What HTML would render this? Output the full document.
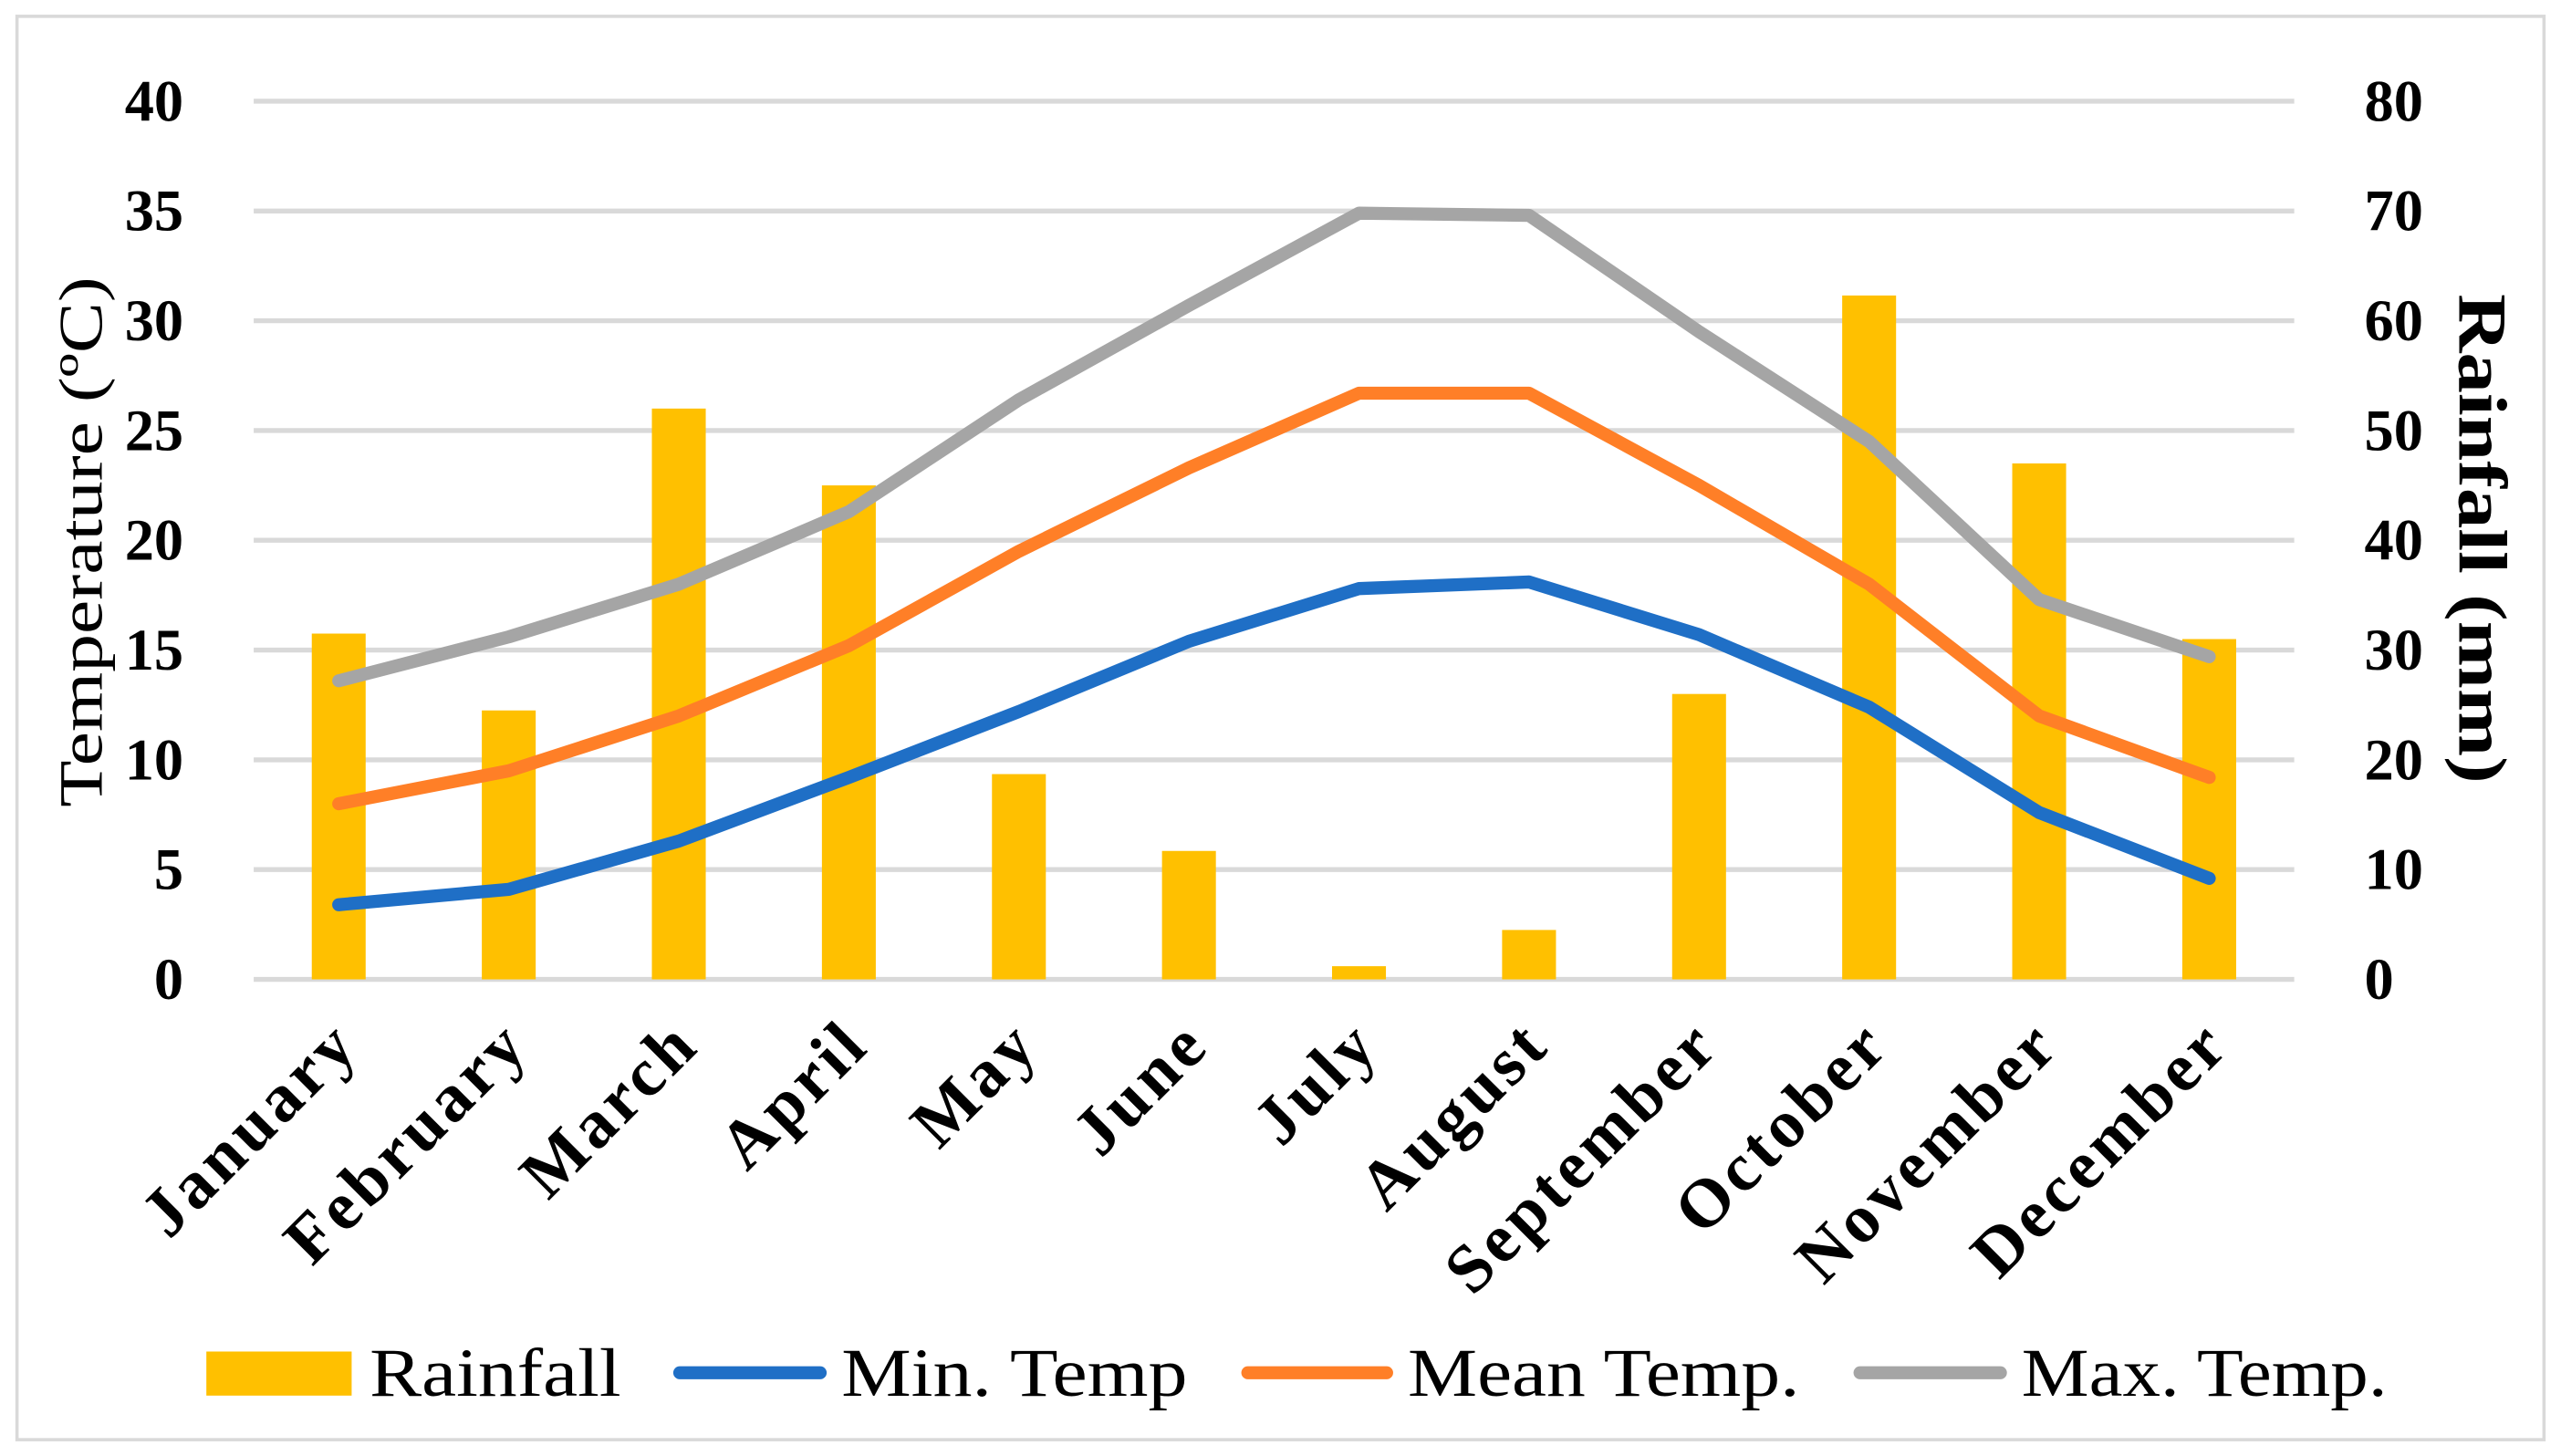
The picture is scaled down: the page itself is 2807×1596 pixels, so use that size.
<!DOCTYPE html>
<html><head><meta charset="utf-8"><style>html,body{margin:0;padding:0;background:#fff}svg{display:block}</style></head>
<body>
<svg id="chart" width="2807" height="1596" viewBox="0 0 1568 892" xmlns="http://www.w3.org/2000/svg" font-family="'Liberation Serif', serif" font-weight="bold">
<rect x="10" y="10" width="1548" height="872" fill="#fff" stroke="#d9d9d9" stroke-width="2"/>
<g id="grid"></g><g id="bars"></g><g id="lines"></g><g id="axes"></g>
<text transform="translate(62,332) rotate(-90)" text-anchor="middle" font-size="38" font-weight="normal" textLength="325" lengthAdjust="spacingAndGlyphs">Temperature (ºC)</text>
<text transform="translate(1506,330) rotate(90)" text-anchor="middle" font-size="42" textLength="300" lengthAdjust="spacingAndGlyphs">Rainfall (mm)</text>
<g font-size="42" font-weight="normal">
<rect x="126" y="828" width="89" height="27" fill="#ffc000"/>
<text x="226" y="855" textLength="154" lengthAdjust="spacingAndGlyphs">Rainfall</text>
<line x1="416" y1="841" x2="502" y2="841" stroke="#1f6fc6" stroke-width="8" stroke-linecap="round"/>
<text x="515" y="855" textLength="212" lengthAdjust="spacingAndGlyphs">Min. Temp</text>
<line x1="764" y1="841" x2="849" y2="841" stroke="#ff7f27" stroke-width="8" stroke-linecap="round"/>
<text x="862" y="855" textLength="240" lengthAdjust="spacingAndGlyphs">Mean Temp.</text>
<line x1="1139" y1="841" x2="1225" y2="841" stroke="#a5a5a5" stroke-width="8" stroke-linecap="round"/>
<text x="1238" y="855" textLength="224" lengthAdjust="spacingAndGlyphs">Max. Temp.</text>
</g>
</svg>
<script>
const months=["January","February","March","April","May","June","July","August","September","October","November","December"];
const rainfall=[31.5,24.5,52,45,18.7,11.7,1.2,4.5,26,62.3,47,31];
const minTemp=[3.4,4.1,6.3,9.2,12.2,15.4,17.8,18.1,15.7,12.4,7.6,4.6];
const meanTemp=[8.0,9.5,12.0,15.2,19.5,23.3,26.7,26.7,22.5,18.0,12.0,9.2];
const maxTemp=[13.6,15.6,18.0,21.3,26.4,30.7,34.9,34.8,29.5,24.5,17.3,14.7];
const leftTicks=[0,5,10,15,20,25,30,35,40];
const rightTicks=[0,10,20,30,40,50,60,70,80];
const NS="http://www.w3.org/2000/svg";
const X0=155,X1=1405,Y0=600,Y1=62;
const band=(X1-X0)/months.length;
const xc=i=>X0+band*(i+0.5);
const yT=v=>Y0-(v/40)*(Y0-Y1);
const yR=v=>Y0-(v/80)*(Y0-Y1);
function mk(tag,attrs,parent){const e=document.createElementNS(NS,tag);for(const k in attrs)e.setAttribute(k,attrs[k]);parent.appendChild(e);return e;}
const grid=document.getElementById('grid'),bars=document.getElementById('bars'),lines=document.getElementById('lines'),axes=document.getElementById('axes');
leftTicks.forEach(t=>{
 const l=mk('line',{x1:X0,x2:X1,y1:yT(t),y2:yT(t),stroke:'#d9d9d9','stroke-width':3},grid);
 
 
 const a=mk('text',{x:112,y:yT(t)+12,'text-anchor':'end','font-size':36},axes);
 a.textContent=t;
 
 
});
rightTicks.forEach(t=>{
 const a=mk('text',{x:1448,y:yR(t)+12,'text-anchor':'start','font-size':36},axes);
 a.textContent=t;
 
 
});
rainfall.forEach((v,i)=>{
 const r=mk('rect',{x:xc(i)-16.5,y:yR(v),width:33,height:Y0-yR(v),fill:'#ffc000'},bars);
 
 
});
[[minTemp,'#1f6fc6','line-min-temp'],[meanTemp,'#ff7f27','line-mean-temp'],[maxTemp,'#a5a5a5','line-max-temp']].forEach(([d,c,n])=>{
 const p=mk('polyline',{points:d.map((v,i)=>xc(i)+','+yT(v)).join(' '),fill:'none',stroke:c,'stroke-width':8,'stroke-linejoin':'round','stroke-linecap':'round'},lines);
 
 
});
months.forEach((m,i)=>{
 const t=mk('text',{transform:`translate(${xc(i)+14},642) rotate(-45)`,'text-anchor':'end','font-size':42,'letter-spacing':'2.5'},axes);
 t.textContent=m;
 
 
});
</script>
</body></html>
